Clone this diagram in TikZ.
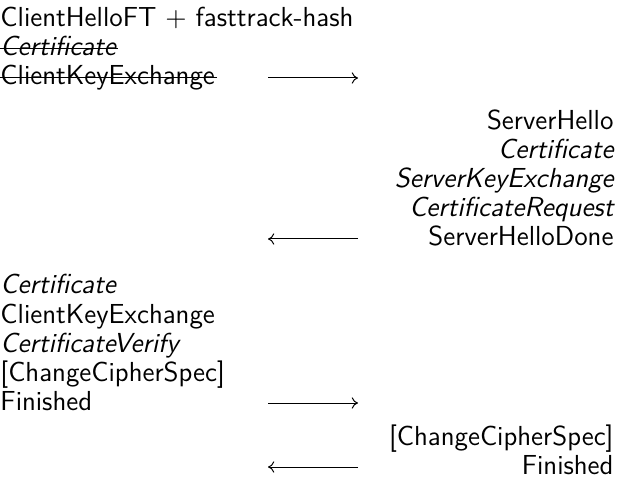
\documentclass[tikz,border=0pt]{standalone}
\usepackage{tikz}
\usetikzlibrary{arrows.meta}

\begin{document}
\begin{tikzpicture}[x=0.4pt,y=0.4pt,yscale=-1,xscale=1,
	msg/.style={inner sep=0pt,font=\fontsize{11}{13}\sffamily},
	flow/.style={-{To[length=2.5pt,width=4.5pt]},line width=0.4pt}]
	\path[use as bounding box] (0,0) rectangle (618,478); %set diagram to 618 x 478
	
	% Client side, first flight
	\draw (0,27) node [anchor=base west] [msg] (chft) {ClientHelloFT $+$ fasttrack-hash};
	\draw (0,56) node [anchor=base west] [msg] (ccert) {\itshape Certificate};
	\draw (0,85) node [anchor=base west] [msg] (ckex) {ClientKeyExchange};
	%Straight Lines (strike through)
	\draw ([yshift=-2.8pt]ccert.base west) -- ([yshift=-2.8pt,xshift=0.5pt]ccert.base east);
	\draw ([yshift=-2.8pt]ckex.base west) -- ([yshift=-2.8pt,xshift=0.5pt]ckex.base east);
	
	% Server side
	\draw (614,130) node [anchor=base east] [msg] (sh) {ServerHello};
	\draw (614,159) node [anchor=base east] [msg] (scert) {\itshape Certificate};
	\draw (614,188) node [anchor=base east] [msg] (skex) {\itshape ServerKeyExchange};
	\draw (614,217) node [anchor=base east] [msg] (creq) {\itshape CertificateRequest};
	\draw (614,246) node [anchor=base east] [msg] (shd) {ServerHelloDone};
	
	% Client side, second flight
	\draw (0,294) node [anchor=base west] [msg] (ccert2) {\itshape Certificate};
	\draw (0,323) node [anchor=base west] [msg] (ckex2) {ClientKeyExchange};
	\draw (0,352) node [anchor=base west] [msg] (cver) {\itshape CertificateVerify};
	\draw (0,381) node [anchor=base west] [msg] (cccs) {[ChangeCipherSpec]};
	\draw (0,410) node [anchor=base west] [msg] (cfin) {Finished};
	
	% Server side, last flight
	\draw (614,445) node [anchor=base east] [msg] (sccs) {[ChangeCipherSpec]};
	\draw (614,474) node [anchor=base east] [msg] (sfin) {Finished};
	
	% Arrows
	\coordinate (a1l) at (268,78); \coordinate (a1r) at (358,78);
	\coordinate (a2l) at (268,239); \coordinate (a2r) at (358,239);
	\coordinate (a3l) at (268,403); \coordinate (a3r) at (358,403);
	\coordinate (a4l) at (268,467); \coordinate (a4r) at (358,467);
	\draw [flow] (a1l) -- (a1r);
	\draw [flow] (a2r) -- (a2l);
	\draw [flow] (a3l) -- (a3r);
	\draw [flow] (a4r) -- (a4l);
	
\end{tikzpicture}
\end{document}
